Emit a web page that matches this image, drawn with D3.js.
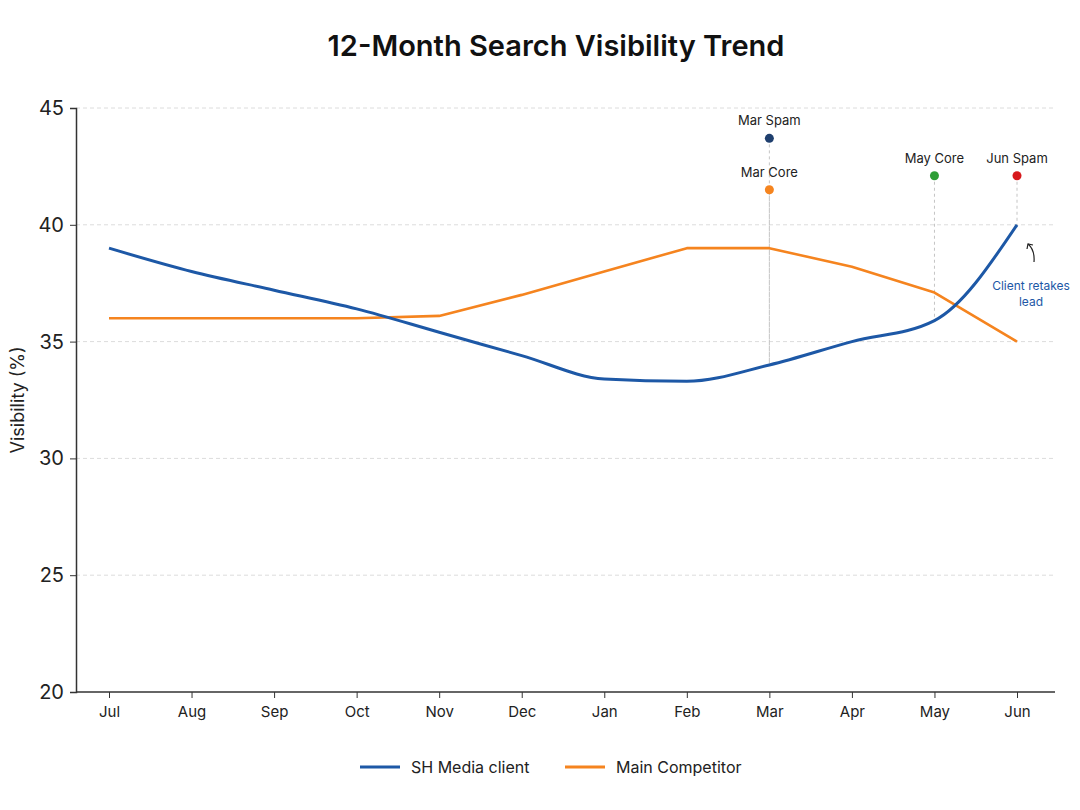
<!DOCTYPE html>
<html>
<head>
<meta charset="utf-8">
<script src="https://cdn.jsdelivr.net/npm/d3@7"></script>
<style>
  body { margin: 0; background: #fff; font-family: Inter, "Noto Sans", sans-serif; }
  .grid line { stroke: #dcdcdc; stroke-dasharray: 4,3; }
</style>
</head>
<body>
<div id="vis"></div>
<script>
// chart size
const FRAME_WIDTH = 1080;
const FRAME_HEIGHT = 810;

const MARGINS = {left: 76, right: 25, top: 108, bottom: 118};

// data
const months = ["Jul","Aug","Sep","Oct","Nov","Dec","Jan","Feb","Mar","Apr","May","Jun"];
const clientVals = [39.0, 38.0, 37.2, 36.4, 35.4, 34.4, 33.4, 33.3, 34.0, 35.0, 35.9, 40.0];
const competitorVals = [36.0, 36.0, 36.0, 36.0, 36.1, 37.0, 38.0, 39.0, 39.0, 38.2, 37.1, 35.0];
const yTicks = [20, 25, 30, 35, 40, 45];

// algorithm updates (month, marker value, label)
const updateMonths = ["Mar", "Mar", "May", "Jun"];
const updateVals = [43.7, 41.5, 42.1, 42.1];
const updateLabels = ["Mar Spam", "Mar Core", "May Core", "Jun Spam"];
const updateColors = ["#1f3f6e", "#f5841f", "#2e9e36", "#d7191c"];

const BLUE = "#1d58a6";
const ORANGE = "#f5841f";

const VIS_WIDTH = FRAME_WIDTH - MARGINS.left - MARGINS.right;
const VIS_HEIGHT = FRAME_HEIGHT - MARGINS.top - MARGINS.bottom;

const svg = d3.select("#vis")
  .append("svg")
    .attr("width", FRAME_WIDTH)
    .attr("height", FRAME_HEIGHT);

// scales
const X_SCALE = d3.scalePoint()
  .domain(months)
  .range([109, 1017]);

const Y_SCALE = d3.scaleLinear()
  .domain([20, 45])
  .range([MARGINS.top + VIS_HEIGHT, MARGINS.top]);

// title
svg.append("text")
  .attr("x", 556)
  .attr("y", 56)
  .attr("text-anchor", "middle")
  .attr("font-size", 29)
  .attr("font-weight", 600)
  .attr("fill", "#111")
  .text("12-Month Search Visibility Trend");

// gridlines
svg.append("g")
  .attr("class", "grid")
  .selectAll("line")
  .data(yTicks.slice(1))
  .enter()
  .append("line")
    .attr("x1", MARGINS.left)
    .attr("x2", FRAME_WIDTH - MARGINS.right)
    .attr("y1", d => Y_SCALE(d))
    .attr("y2", d => Y_SCALE(d));

// y axis
const yAxis = svg.append("g")
  .attr("transform", "translate(" + MARGINS.left + ",0)")
  .call(d3.axisLeft(Y_SCALE).tickValues(yTicks).tickSizeOuter(0).tickSize(6).tickPadding(6));
yAxis.selectAll("text").attr("font-size", 20).attr("fill", "#222").attr("font-family", "Inter, sans-serif");
yAxis.select(".domain").attr("stroke", "#333").attr("stroke-width", 1.5);
yAxis.selectAll(".tick line").attr("stroke", "#333");

// x axis
const xAxis = svg.append("g")
  .attr("transform", "translate(0," + (MARGINS.top + VIS_HEIGHT) + ")")
  .call(d3.axisBottom(X_SCALE).tickSizeOuter(0).tickSize(6).tickPadding(8));
xAxis.select(".domain").remove();
xAxis.append("line")
  .attr("x1", MARGINS.left)
  .attr("x2", FRAME_WIDTH - MARGINS.right)
  .attr("stroke", "#333")
  .attr("stroke-width", 1.5);
xAxis.selectAll("text").attr("font-size", 15).attr("fill", "#222").attr("font-family", "Inter, sans-serif");
xAxis.selectAll(".tick line").attr("stroke", "#333");

// y label
svg.append("text")
  .attr("transform", "translate(24," + (MARGINS.top + VIS_HEIGHT / 2) + ") rotate(-90)")
  .attr("text-anchor", "middle")
  .attr("font-size", 18)
  .attr("fill", "#222")
  .text("Visibility (%)");

// update markers: dashed drop lines down to the client line
const clientByMonth = {};
months.forEach((m, i) => { clientByMonth[m] = clientVals[i]; });

svg.selectAll("dropline")
  .data(updateMonths)
  .enter()
  .append("line")
    .attr("x1", d => X_SCALE(d))
    .attr("x2", d => X_SCALE(d))
    .attr("y1", (d, i) => Y_SCALE(updateVals[i]))
    .attr("y2", d => Y_SCALE(clientByMonth[d]))
    .attr("stroke", "#c4c4c4")
    .attr("stroke-width", 1)
    .attr("stroke-dasharray", "3,3");

// lines
const smoothLine = d3.line()
  .x((d, i) => X_SCALE(months[i]))
  .y(d => Y_SCALE(d))
  .curve(d3.curveMonotoneX);

const straightLine = d3.line()
  .x((d, i) => X_SCALE(months[i]))
  .y(d => Y_SCALE(d));

svg.append("path")
  .datum(competitorVals)
  .attr("d", straightLine)
  .attr("fill", "none")
  .attr("stroke", ORANGE)
  .attr("stroke-width", 2.6)
  .attr("stroke-linejoin", "round");

svg.append("path")
  .datum(clientVals)
  .attr("d", smoothLine)
  .attr("fill", "none")
  .attr("stroke", BLUE)
  .attr("stroke-width", 3);

// update dots + labels
svg.selectAll("updot")
  .data(updateMonths)
  .enter()
  .append("circle")
    .attr("cx", d => X_SCALE(d))
    .attr("cy", (d, i) => Y_SCALE(updateVals[i]))
    .attr("r", 4.5)
    .attr("fill", (d, i) => updateColors[i]);

svg.selectAll("uplabel")
  .data(updateMonths)
  .enter()
  .append("text")
    .attr("x", d => X_SCALE(d))
    .attr("y", (d, i) => Y_SCALE(updateVals[i]) - 13)
    .attr("text-anchor", "middle")
    .attr("font-size", 13)
    .attr("fill", "#222")
    .text((d, i) => updateLabels[i]);

// callout
const jx = X_SCALE("Jun");
svg.append("text")
  .attr("x", jx + 14)
  .attr("y", 290)
  .attr("text-anchor", "middle")
  .attr("font-size", 12)
  .attr("fill", BLUE)
  .selectAll("tspan")
  .data(["Client retakes", "lead"])
  .enter()
  .append("tspan")
    .attr("x", jx + 14)
    .attr("dy", (d, i) => i === 0 ? 0 : 16)
    .text(d => d);

svg.append("path")
  .attr("d", "M" + (jx + 17) + ",262 Q" + (jx + 18) + ",250 " + (jx + 11) + ",244")
  .attr("fill", "none")
  .attr("stroke", "#222")
  .attr("stroke-width", 1.2);
svg.append("path")
  .attr("d", "M" + (jx + 10) + ",249 L" + (jx + 11) + ",244 L" + (jx + 16) + ",245")
  .attr("fill", "none")
  .attr("stroke", "#222")
  .attr("stroke-width", 1.2);

// legend
const legendNames = ["SH Media client", "Main Competitor"];
const legendColors = [BLUE, ORANGE];
const legendX = [360, 565];
const lg = svg.selectAll("legend")
  .data(legendNames)
  .enter()
  .append("g")
    .attr("transform", (d, i) => "translate(" + legendX[i] + ",767)");
lg.append("line")
  .attr("x1", 0).attr("x2", 40)
  .attr("stroke", (d, i) => legendColors[i])
  .attr("stroke-width", 3);
lg.append("text")
  .attr("x", 51)
  .attr("y", 6)
  .attr("font-size", 16)
  .attr("fill", "#222")
  .text(d => d);
</script>
</body>
</html>
